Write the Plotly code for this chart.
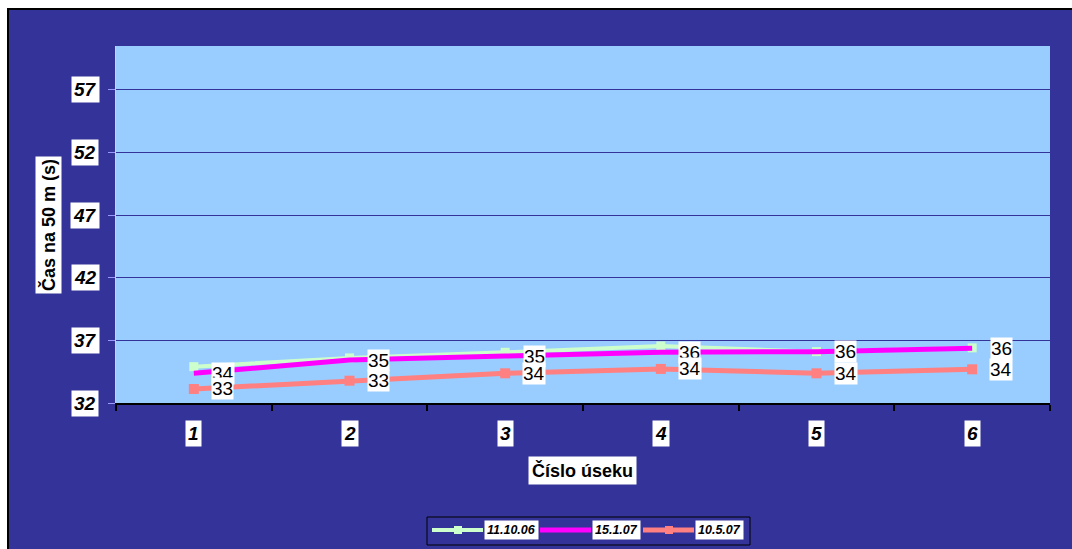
import plotly.graph_objects as go

# ---- data ----
categories = ["1", "2", "3", "4", "5", "6"]
series_names = ["11.10.06", "15.1.07", "10.5.07"]
vals_111006 = [34.9, 35.6, 36.05, 36.55, 36.1, 36.4]
vals_15107 = [34.37, 35.43, 35.75, 36.05, 36.1, 36.37]
vals_10507 = [33.12, 33.78, 34.37, 34.72, 34.37, 34.69]
y_ticks = [32, 37, 42, 47, 52, 57]
y_title = "Čas na 50 m (s)"
x_title = "Číslo úseku"

W, H = 1072, 549
ML, MR, MT, MB = 116, 22, 46, 146
PW, PH = W - ML - MR, H - MT - MB


def px(x):
    return (x - ML) / PW


def py(y):
    return (H - MB - y) / PH


FONT = "Liberation Sans, Arial, sans-serif"
BG = "#333399"
C = dict(xanchor="center", yanchor="middle")

fig = go.Figure()
fig.add_trace(go.Scatter(x=categories, y=vals_111006, name=series_names[0], mode="lines+markers",
                         line=dict(color="#CCFFCC", width=4),
                         marker=dict(symbol="square", size=9, color="#CCFFCC"), showlegend=False))
fig.add_trace(go.Scatter(x=categories, y=vals_15107, name=series_names[1], mode="lines",
                         line=dict(color="#FF00FF", width=5), showlegend=False))
fig.add_trace(go.Scatter(x=categories, y=vals_10507, name=series_names[2], mode="lines+markers",
                         line=dict(color="#FF8080", width=5),
                         marker=dict(symbol="square", size=10, color="#FF8080"), showlegend=False))

ann = []
# data labels (category index used for positioning)
for vals in (vals_15107, vals_10507):
    for i, v in enumerate(vals):
        ann.append(dict(x=i, y=v, xref="x", yref="y", text=str(int(v)), showarrow=False,
                        xshift=29, font=dict(family=FONT, size=19, color="black"),
                        bgcolor="white", borderpad=0, **C))
# y tick labels
for t in y_ticks:
    ann.append(dict(x=px(85), y=t, xref="paper", yref="y", text=f"<b><i>{t}</i></b>", showarrow=False,
                    font=dict(family=FONT, size=19, color="black"), bgcolor="white", borderpad=2, **C))
# x tick labels
for i, c in enumerate(categories):
    ann.append(dict(x=i, y=py(433), xref="x", yref="paper", text=f"<b><i>{c}</i></b>", showarrow=False,
                    font=dict(family=FONT, size=19, color="black"), bgcolor="white", borderpad=2, **C))
# axis titles
ann.append(dict(x=px(48), y=py(225), xref="paper", yref="paper", text=f"<b>{y_title}</b>", textangle=-90,
                showarrow=False, font=dict(family=FONT, size=18, color="black"), bgcolor="white",
                borderpad=2, **C))
ann.append(dict(x=px(582), y=py(470), xref="paper", yref="paper", text=f"<b>{x_title}</b>",
                showarrow=False, font=dict(family=FONT, size=18, color="black"), bgcolor="white",
                borderpad=3, **C))

shapes = []
# white page margin and black frame (left and top)
shapes.append(dict(type="rect", xref="paper", yref="paper", x0=px(-5), x1=px(7), y0=py(560), y1=py(-5),
                   fillcolor="white", line=dict(width=0), layer="below"))
shapes.append(dict(type="rect", xref="paper", yref="paper", x0=px(-5), x1=px(1080), y0=py(8), y1=py(-5),
                   fillcolor="white", line=dict(width=0), layer="below"))
shapes.append(dict(type="line", xref="paper", yref="paper", x0=px(8), x1=px(8), y0=py(560), y1=py(8),
                   line=dict(color="black", width=2)))
shapes.append(dict(type="line", xref="paper", yref="paper", x0=px(8), x1=px(1080), y0=py(9), y1=py(9),
                   line=dict(color="black", width=2)))

# manual legend
shapes.append(dict(type="rect", xref="paper", yref="paper", x0=px(427), x1=px(750), y0=py(545), y1=py(517),
                   line=dict(color="black", width=1), fillcolor=BG))
leg = [(series_names[0], "#CCFFCC", 432, True, 4), (series_names[1], "#FF00FF", 540, False, 5),
       (series_names[2], "#FF8080", 643, True, 5)]
for name, col, x0, mk, w in leg:
    shapes.append(dict(type="line", xref="paper", yref="paper", x0=px(x0), x1=px(x0 + 51), y0=py(530), y1=py(530),
                       line=dict(color=col, width=w)))
    if mk:
        shapes.append(dict(type="rect", xref="paper", yref="paper", x0=px(x0 + 22), x1=px(x0 + 30),
                           y0=py(534), y1=py(526), fillcolor=col, line=dict(width=0)))
    ann.append(dict(x=px(x0 + 52), y=py(530), xref="paper", yref="paper", xanchor="left", yanchor="middle",
                    text=f"<b><i>{name}</i></b>", showarrow=False,
                    font=dict(family=FONT, size=12.5, color="black"), bgcolor="white", borderpad=2))

fig.update_layout(
    width=W, height=H, margin=dict(l=ML, r=MR, t=MT, b=MB),
    paper_bgcolor=BG, plot_bgcolor="#99CCFF",
    showlegend=False, annotations=ann, shapes=shapes,
    xaxis=dict(type="category", range=[-0.5, 5.5], tickson="boundaries", ticks="outside", ticklen=6,
               tickcolor="black", tickwidth=1.5, showticklabels=False, showgrid=False,
               showline=True, linecolor="black", linewidth=2, zeroline=False),
    yaxis=dict(range=[32, 60.5], tick0=32, dtick=5, ticks="outside", ticklen=7, tickcolor="#9999FF",
               showticklabels=False, showgrid=True, gridcolor="#333399", gridwidth=1,
               showline=True, linecolor="#CCCCFF", linewidth=1, zeroline=False),
)

fig.write_html("out.html")
